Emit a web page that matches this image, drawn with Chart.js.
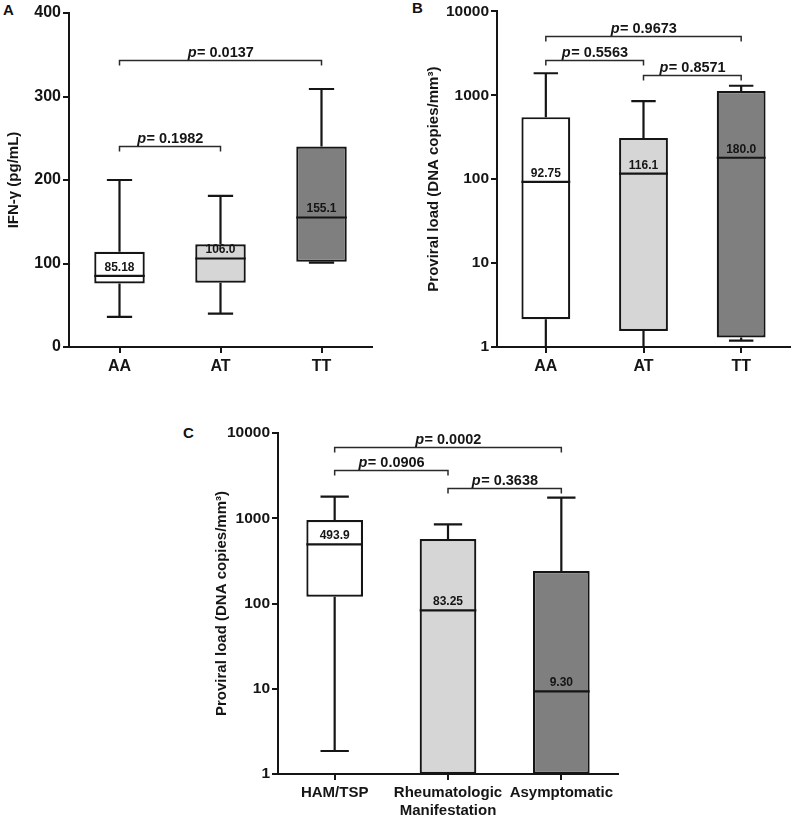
<!DOCTYPE html>
<html>
<head>
<meta charset="utf-8">
<script src="https://cdn.jsdelivr.net/npm/chart.js@4.4.1/dist/chart.umd.min.js"></script>
<style>
  html, body { margin: 0; padding: 0; background: #fff; }
  body { width: 800px; height: 818px; position: relative; overflow: hidden; }
  .panel { position: absolute; }
  .letter { position: absolute; font: bold 15px "Liberation Sans", Arial, sans-serif; line-height: 15px; color: #111; }
</style>
</head>
<body>
<div class="letter" style="left:3px;top:2px;">A</div>
<div class="letter" style="left:412px;top:0px;">B</div>
<div class="letter" style="left:183px;top:425px;">C</div>
<div class="panel" style="left:0;top:0;"><canvas id="cA" width="400" height="390"></canvas></div>
<div class="panel" style="left:400px;top:0;"><canvas id="cB" width="400" height="390"></canvas></div>
<div class="panel" style="left:200px;top:390px;"><canvas id="cC" width="440" height="428"></canvas></div>
<script>
// ---------- Panel A data ----------
const catsA = ['AA', 'AT', 'TT'];
const minA = [36, 40, 101];
const q1A = [76, 77, 102];
const medA = [85.18, 106.0, 155.1];
const q3A = [114, 123, 240];
const maxA = [200, 181, 309];
const medTextA = ['85.18', '106.0', '155.1'];
const pFromA = [0, 0];
const pToA = [1, 2];
const pYA = [241, 344];
const pTextA = ['0.1982', '0.0137'];
const ticksA = [0, 100, 200, 300, 400];

// ---------- Panel B data ----------
const catsB = ['AA', 'AT', 'TT'];
const minB = [1, 1, 1.19];
const q1B = [2.14, 1.55, 1.30];
const medB = [92.75, 116.1, 180.0];
const q3B = [548, 310, 1120];
const maxB = [1828, 852, 1297];
const medTextB = ['92.75', '116.1', '180.0'];
const pFromB = [0, 0, 1];
const pToB = [2, 1, 2];
const pYB = [5100, 2650, 1750];
const pTextB = ['0.9673', '0.5563', '0.8571'];
const ticksLog = [1, 10, 100, 1000, 10000];

// ---------- Panel C data ----------
const catsC = ['HAM/TSP', ['Rheumatologic', 'Manifestation'], 'Asymptomatic'];
const minC = [1.86, 1, 1];
const q1C = [120, 1, 1];
const medC = [493.9, 83.25, 9.30];
const q3C = [955, 571, 240];
const maxC = [1790, 849, 1744];
const medTextC = ['493.9', '83.25', '9.30'];
const pFromC = [0, 0, 1];
const pToC = [2, 1, 2];
const pYC = [6800, 3680, 2240];
const pTextC = ['0.0002', '0.0906', '0.3638'];

const boxColors = ['#ffffff', '#d6d6d6', '#7f7f7f'];
const FAM = '"Liberation Sans", Arial, sans-serif';
const INK = '#151515';

function boxPlugin(s) {
  return {
    id: 'boxExtras',
    afterDatasetsDraw(chart) {
      const ctx = chart.ctx;
      const xs = chart.scales.x, ys = chart.scales.y;
      const meta = chart.getDatasetMeta(0);
      ctx.save();
      ctx.strokeStyle = INK;
      ctx.fillStyle = INK;
      ctx.lineCap = 'butt';
      for (let i = 0; i < s.med.length; i++) {
        const x = xs.getPixelForValue(i);
        const w = meta.data[i].width;
        const cap = w / 2;
        ctx.lineWidth = 2.2;
        if (s.max[i] > s.q3[i]) {
          const yq3 = ys.getPixelForValue(s.q3[i]);
          const ymax = ys.getPixelForValue(s.max[i]);
          ctx.beginPath();
          ctx.moveTo(x, yq3); ctx.lineTo(x, ymax);
          ctx.moveTo(x - cap / 2, ymax); ctx.lineTo(x + cap / 2, ymax);
          ctx.stroke();
        }
        if (s.min[i] < s.q1[i]) {
          const yq1 = ys.getPixelForValue(s.q1[i]);
          const ymin = ys.getPixelForValue(s.min[i]);
          ctx.beginPath();
          ctx.moveTo(x, yq1); ctx.lineTo(x, ymin);
          ctx.moveTo(x - cap / 2, ymin); ctx.lineTo(x + cap / 2, ymin);
          ctx.stroke();
        }
        const ym = ys.getPixelForValue(s.med[i]);
        ctx.beginPath();
        ctx.moveTo(x - w / 2, ym); ctx.lineTo(x + w / 2, ym);
        ctx.stroke();
        ctx.font = 'bold 12px ' + FAM;
        ctx.textAlign = 'center';
        ctx.textBaseline = 'alphabetic';
        ctx.fillText(s.medText[i], x, ym - 5);
      }
      for (let k = 0; k < s.pText.length; k++) {
        const x1 = xs.getPixelForValue(s.pFrom[k]);
        const x2 = xs.getPixelForValue(s.pTo[k]);
        const y = Math.round(ys.getPixelForValue(s.pY[k])) + 0.5;
        ctx.lineWidth = 1.5;
        ctx.strokeStyle = '#2a2a2a';
        ctx.beginPath();
        ctx.moveTo(x1, y + 5); ctx.lineTo(x1, y); ctx.lineTo(x2, y); ctx.lineTo(x2, y + 5);
        ctx.stroke();
        const pre = 'p', post = '= ' + s.pText[k];
        ctx.font = 'italic bold 14.5px ' + FAM;
        const w1 = ctx.measureText(pre).width;
        ctx.font = 'bold 14.5px ' + FAM;
        const w2 = ctx.measureText(post).width;
        const start = (x1 + x2) / 2 - (w1 + w2) / 2;
        ctx.textAlign = 'left';
        ctx.textBaseline = 'alphabetic';
        ctx.font = 'italic bold 14.5px ' + FAM;
        ctx.fillText(pre, start, y - 4);
        ctx.font = 'bold 14.5px ' + FAM;
        ctx.fillText(post, start + w1 + 0.5, y - 4);
      }
      ctx.restore();
    }
  };
}

function makeChart(id, cats, s, opts) {
  const isLog = opts.log;
  const floats = s.q1.map((v, i) => [v, s.q3[i]]);
  return new Chart(document.getElementById(id), {
    type: 'bar',
    data: {
      labels: cats,
      datasets: [{
        data: floats,
        backgroundColor: boxColors,
        borderColor: INK,
        borderWidth: 2.2,
        borderSkipped: false,
        barPercentage: 0.5,
        categoryPercentage: 1.0
      }]
    },
    options: {
      responsive: false,
      animation: false,
      devicePixelRatio: 1,
      layout: { autoPadding: false, padding: opts.padding },
      plugins: { legend: { display: false }, tooltip: { enabled: false }, title: { display: false } },
      scales: {
        x: {
          type: 'category',
          offset: true,
          grid: { offset: false, drawOnChartArea: false, drawTicks: true, tickLength: 6, color: INK, lineWidth: 2 },
          border: { display: true, color: INK, width: 2 },
          ticks: { color: INK, font: { family: FAM, size: opts.xFont, weight: 'bold', lineHeight: 1.2 }, padding: 4, maxRotation: 0, autoSkip: false },
          afterFit(sc) { sc.height = opts.xHeight; }
        },
        y: {
          type: isLog ? 'logarithmic' : 'linear',
          min: opts.min,
          max: opts.max,
          afterBuildTicks(sc) { sc.ticks = opts.ticks.map(v => ({ value: v })); },
          grid: { drawOnChartArea: false, drawTicks: true, tickLength: 6, color: INK, lineWidth: 2 },
          border: { display: true, color: INK, width: 2 },
          ticks: {
            color: INK, padding: 2,
            font: { family: FAM, size: opts.yFont, weight: 'bold' },
            callback: (v) => String(v)
          },
          title: {
            display: true, text: opts.title, color: INK,
            font: { family: FAM, size: 15, weight: 'bold', lineHeight: 1.2 },
            padding: { top: opts.titlePad, bottom: 0 }
          },
          afterFit(sc) { sc.width = opts.yWidth; }
        }
      }
    },
    plugins: [boxPlugin(s)]
  });
}

makeChart('cA', catsA,
  { min: minA, q1: q1A, med: medA, q3: q3A, max: maxA, medText: medTextA, pFrom: pFromA, pTo: pToA, pY: pYA, pText: pTextA },
  { log: false, min: 0, max: 400, ticks: ticksA, padding: { left: 0, top: 13, right: 28, bottom: 0 },
    yWidth: 69, xHeight: 43, xFont: 16, yFont: 16, title: 'IFN-γ (pg/mL)', titlePad: 5 });

makeChart('cB', catsB,
  { min: minB, q1: q1B, med: medB, q3: q3B, max: maxB, medText: medTextB, pFrom: pFromB, pTo: pToB, pY: pYB, pText: pTextB },
  { log: true, min: 1, max: 10000, ticks: ticksLog, padding: { left: 0, top: 8, right: 10, bottom: 0 },
    yWidth: 97, xHeight: 43, xFont: 16, yFont: 15.5, title: 'Proviral load (DNA copies/mm³)', titlePad: 25 });

makeChart('cC', catsC,
  { min: minC, q1: q1C, med: medC, q3: q3C, max: maxC, medText: medTextC, pFrom: pFromC, pTo: pToC, pY: pYC, pText: pTextC },
  { log: true, min: 1, max: 10000, ticks: ticksLog, padding: { left: 0, top: 43, right: 22, bottom: 0 },
    yWidth: 78, xHeight: 44, xFont: 15, yFont: 15.5, title: 'Proviral load (DNA copies/mm³)', titlePad: 13 });
</script>
</body>
</html>
